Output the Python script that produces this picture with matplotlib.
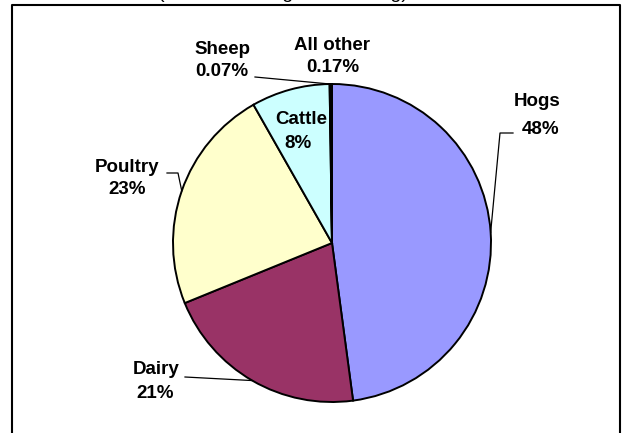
import numpy as np
import matplotlib
matplotlib.use("Agg")
import matplotlib.pyplot as plt

plt.rcParams["font.family"] = ["Liberation Sans", "DejaVu Sans"]

categories = ["Hogs", "Dairy", "Poultry", "Cattle", "Sheep", "All other"]
shares = [48, 21, 23, 8, 0.07, 0.17]
pct_labels = ["48%", "21%", "23%", "8%", "0.07%", "0.17%"]
colors = ["#9999FF", "#993366", "#FFFFCC", "#CCFFFF", "#660066", "#000000"]

W, H = 626, 433
fig = plt.figure(figsize=(W / 100, H / 100), dpi=100)
ax = fig.add_axes([0, 0, 1, 1])


def py(y):
    # pixel row (from top) to data y
    return H - y


cx, cy, r = 332, 243, 159
ax.pie(shares, colors=colors, startangle=90, counterclock=False,
       center=(cx, py(cy)), radius=r, frame=True,
       wedgeprops=dict(edgecolor="black", linewidth=1.4))
ax.set_xlim(0, W)
ax.set_ylim(0, H)
ax.axis("off")

# frame around chart area (bottom runs off the image)
ax.plot([12, 12, 620, 620], [-5, py(5), py(5), -5], color="black", lw=1.5,
        clip_on=False)

# cut-off title at top
ax.text(283, py(-1.5), "(Based on weighted ranking)", ha="center",
        va="baseline", fontsize=14)

# wedge mid angles (clockwise from top) to find leader anchors
frac = np.array(shares) / sum(shares)
ends = np.cumsum(frac) * 360
mids = ends - frac * 360 / 2


def edge_point(i):
    a = np.deg2rad(mids[i])
    return cx + r * np.sin(a), cy - r * np.cos(a)


# label layout: (name center, pct center, leader elbow points in pixel coords)
layout = {
    "Hogs": ((537, 102), (541, 129), [(513, 133), (500, 133)]),
    "Dairy": ((156, 370), (155, 394), [(185, 377)]),
    "Poultry": ((127, 167), (127, 190), [(167, 173), (178, 173)]),
    "Cattle": ((301, 120), (298, 143), None),
    "Sheep": ((222, 50), (222, 71), [(255, 77)]),
    "All other": ((332, 45), (333, 68), None),
}

for i, name in enumerate(categories):
    (nx, ny), (qx, qy), elbow = layout[name]
    ax.text(nx, py(ny), name, ha="center", va="center", fontsize=13.5,
            fontweight="bold")
    ax.text(qx, py(qy), pct_labels[i], ha="center", va="center",
            fontsize=13.5, fontweight="bold")
    if elbow:
        ex, ey = edge_point(i)
        xs = [p[0] for p in elbow] + [ex]
        ys = [py(p[1]) for p in elbow] + [py(ey)]
        ax.plot(xs, ys, color="black", lw=0.9)

fig.savefig("out.png", dpi=100)
